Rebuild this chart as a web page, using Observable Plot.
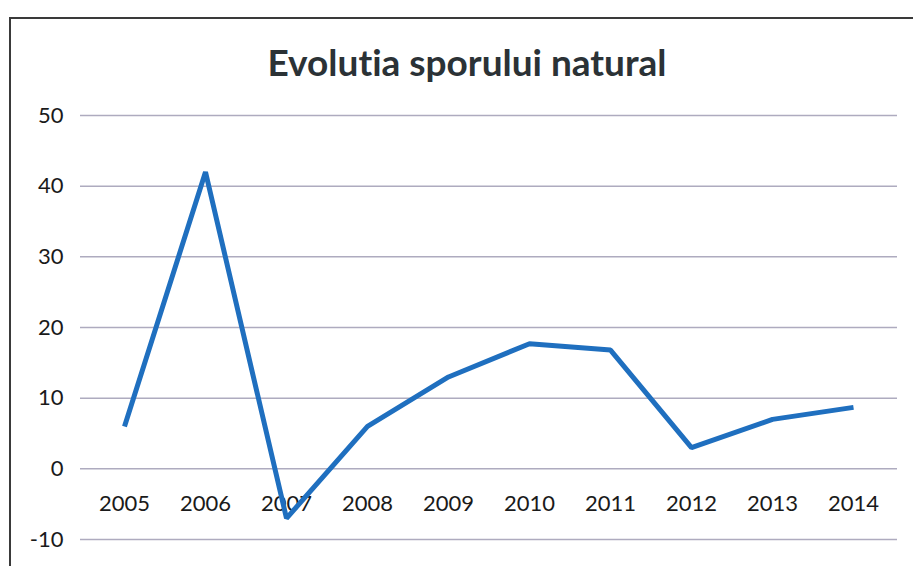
<!DOCTYPE html>
<html>
<head>
<meta charset="utf-8">
<script src="https://cdn.jsdelivr.net/npm/d3@7"></script>
<script src="https://cdn.jsdelivr.net/npm/@observablehq/plot@0.6"></script>
<style>
  html, body { margin: 0; padding: 0; background: #fff; }
  body { width: 913px; height: 566px; overflow: hidden; position: relative; font-family: Lato, "Open Sans", sans-serif; font-variant-ligatures: none; }
  #frame { position: absolute; left: 9px; top: 17px; width: 920px; height: 560px; border-left: 2px solid #3a3a3a; border-top: 2px solid #3a3a3a; }
  #title { position: absolute; left: 0; top: 42px; width: 934px; text-align: center; font-size: 37px; font-weight: 700; line-height: 40px; color: #2b3236; font-variant-ligatures: none; font-feature-settings: "liga" 0, "dlig" 0; }
  #chart { position: absolute; left: 0; top: 90px; }
</style>
</head>
<body>
<div id="frame"></div>
<div id="title">Evolutia sporului natural</div>
<div id="chart"></div>
<script>
const years = ["2005","2006","2007","2008","2009","2010","2011","2012","2013","2014"];
const values = [6, 42, -7, 6, 13, 17.7, 16.8, 3, 7, 8.7];
const yTicks = [-10, 0, 10, 20, 30, 40, 50];

const data = years.map((y, i) => ({year: y, value: values[i]}));

const chart = Plot.plot({
  width: 913,
  height: 476,
  marginLeft: 80,
  marginRight: 16,
  marginTop: 25,
  marginBottom: 27,
  style: {fontFamily: "Lato, 'Open Sans', sans-serif", background: "transparent"},
  x: {type: "point", domain: years, padding: 0.5, axis: null},
  y: {domain: [-10, 50], axis: null},
  marks: [
    Plot.ruleY(yTicks, {stroke: "#aeabbf", strokeWidth: 1.5}),
    Plot.axisY(yTicks, {anchor: "left", tickSize: 0, tickPadding: 17, fontSize: 22, fill: "#1a1a1a", tickFormat: d => String(d), label: null}),
    Plot.text(years, {x: d => d, y: () => 0, dy: 35, text: d => d, fontSize: 22, fill: "#1a1a1a"}),
    Plot.line(data, {x: "year", y: "value", stroke: "#1f6fbf", strokeWidth: 5, strokeLinejoin: "miter", strokeLinecap: "butt"})
  ]
});
document.getElementById("chart").appendChild(chart);
</script>
</body>
</html>
